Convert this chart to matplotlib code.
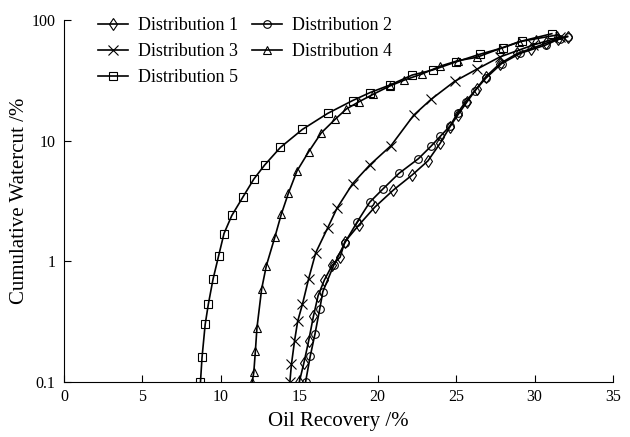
import matplotlib
matplotlib.use("Agg")
import matplotlib.pyplot as plt

plt.rcParams['font.family'] = ['Liberation Serif', 'DejaVu Serif']

# Distribution 1 (diamonds)
x1 = [15.0, 15.3, 15.6, 15.9, 16.2, 16.6, 17.1, 17.6, 17.9, 18.8, 19.8, 21.0, 22.2,
      23.2, 24.0, 24.6, 25.1, 25.7, 26.3, 26.9, 27.8, 28.9, 29.8, 30.7, 31.5, 32.1]
y1 = [0.1, 0.145, 0.22, 0.35, 0.52, 0.70, 0.93, 1.08, 1.45, 2.0, 2.8, 3.9, 5.2,
      6.8, 9.6, 13, 16.3, 21, 27, 34, 43.6, 52.8, 58, 64, 70, 73]

# Distribution 2 (circles)
x2 = [15.4, 15.7, 16.0, 16.3, 16.5, 17.2, 17.9, 18.7, 19.5, 20.35, 21.35, 22.6,
      23.4, 24.0, 24.6, 25.1, 25.6, 26.2, 26.9, 27.9, 29.1, 30.7, 31.6, 32.1]
y2 = [0.1, 0.164, 0.25, 0.40, 0.56, 0.93, 1.42, 2.13, 3.1, 4.0, 5.35, 7.1,
      9.0, 10.9, 13.2, 17, 21, 26, 33, 43.6, 53, 62, 70, 73]

# Distribution 3 (crosses)
x3 = [14.4, 14.5, 14.7, 14.9, 15.2, 15.6, 16.05, 16.8, 17.4, 18.4, 19.5, 20.85,
      22.3, 23.4, 24.9, 26.3, 27.8, 29.9, 31.6]
y3 = [0.1, 0.14, 0.22, 0.32, 0.44, 0.72, 1.18, 1.88, 2.75, 4.4, 6.3, 9.1,
      16.3, 22, 31, 39, 49.5, 62, 72]

# Distribution 4 (triangles)
x4 = [12.0, 12.1, 12.2, 12.3, 12.6, 12.9, 13.45, 13.85, 14.3, 14.85, 15.6, 16.4, 17.3,
      18.0, 18.8, 19.7, 20.8, 21.7, 22.8, 24.0, 25.1, 26.3, 27.8, 29.0, 30.1, 31.4]
y4 = [0.1, 0.12, 0.18, 0.28, 0.59, 0.92, 1.6, 2.45, 3.65, 5.6, 8.1, 11.6, 15.1,
      18.3, 21, 24.2, 28.5, 31.8, 35.6, 41.5, 46, 49, 58, 66, 70, 75]

# Distribution 5 (squares)
x5 = [8.7, 8.8, 9.0, 9.2, 9.5, 9.85, 10.2, 10.7, 11.4, 12.1, 12.8, 13.8, 15.2,
      16.8, 18.4, 19.5, 20.8, 22.2, 23.5, 25.0, 26.5, 28.0, 29.2, 31.1]
y5 = [0.1, 0.16, 0.30, 0.44, 0.71, 1.1, 1.7, 2.4, 3.4, 4.8, 6.3, 8.8, 12.4,
      16.8, 21.5, 25, 29, 35, 38.5, 45, 52, 59, 67, 77]

series = [(x1, y1, 'd', 'Distribution 1', 6.5),
          (x2, y2, 'o', 'Distribution 2', 5.5),
          (x3, y3, 'x', 'Distribution 3', 7),
          (x4, y4, '^', 'Distribution 4', 5.5),
          (x5, y5, 's', 'Distribution 5', 5.5)]

fig = plt.figure(figsize=(6.3, 4.37), dpi=100)
ax = fig.add_axes([0.1016, 0.1259, 0.8714, 0.8283])

lines = []
for xs, ys, m, lab, ms in series:
    ln, = ax.plot(xs, ys, color='black', lw=1.2, marker=m, markersize=ms,
                  markerfacecolor='none', markeredgecolor='black',
                  markeredgewidth=0.8, label=lab)
    lines.append(ln)

ax.set_yscale('log')
ax.set_xlim(0, 35)
ax.set_ylim(0.1, 100)
ax.set_xticks(range(0, 36, 5))
ax.set_yticks([0.1, 1, 10, 100])
ax.set_yticklabels(['0.1', '1', '10', '100'])
ax.minorticks_off()
ax.tick_params(direction='in', length=5, width=0.8, labelsize=11.5)
ax.tick_params(axis='y', pad=6)
ax.tick_params(axis='x', pad=5)
for s in ['top', 'right']:
    ax.spines[s].set_visible(False)
for s in ['left', 'bottom']:
    ax.spines[s].set_linewidth(0.8)

ax.set_xlabel('Oil Recovery /%', fontsize=15, labelpad=5)
ax.set_ylabel('Cumulative Watercut /%', fontsize=15, labelpad=2)

# row-wise order: 1 2 / 3 4 / 5
order = [0, 2, 4, 1, 3]
ax.legend([lines[i] for i in order], [series[i][3] for i in order],
          ncol=2, loc='upper left', bbox_to_anchor=(0.049, 1.028), frameon=False,
          fontsize=13, handlelength=1.65, handletextpad=0.55, columnspacing=0.8,
          labelspacing=0.5, borderaxespad=0)

fig.savefig('out.png', dpi=100)
